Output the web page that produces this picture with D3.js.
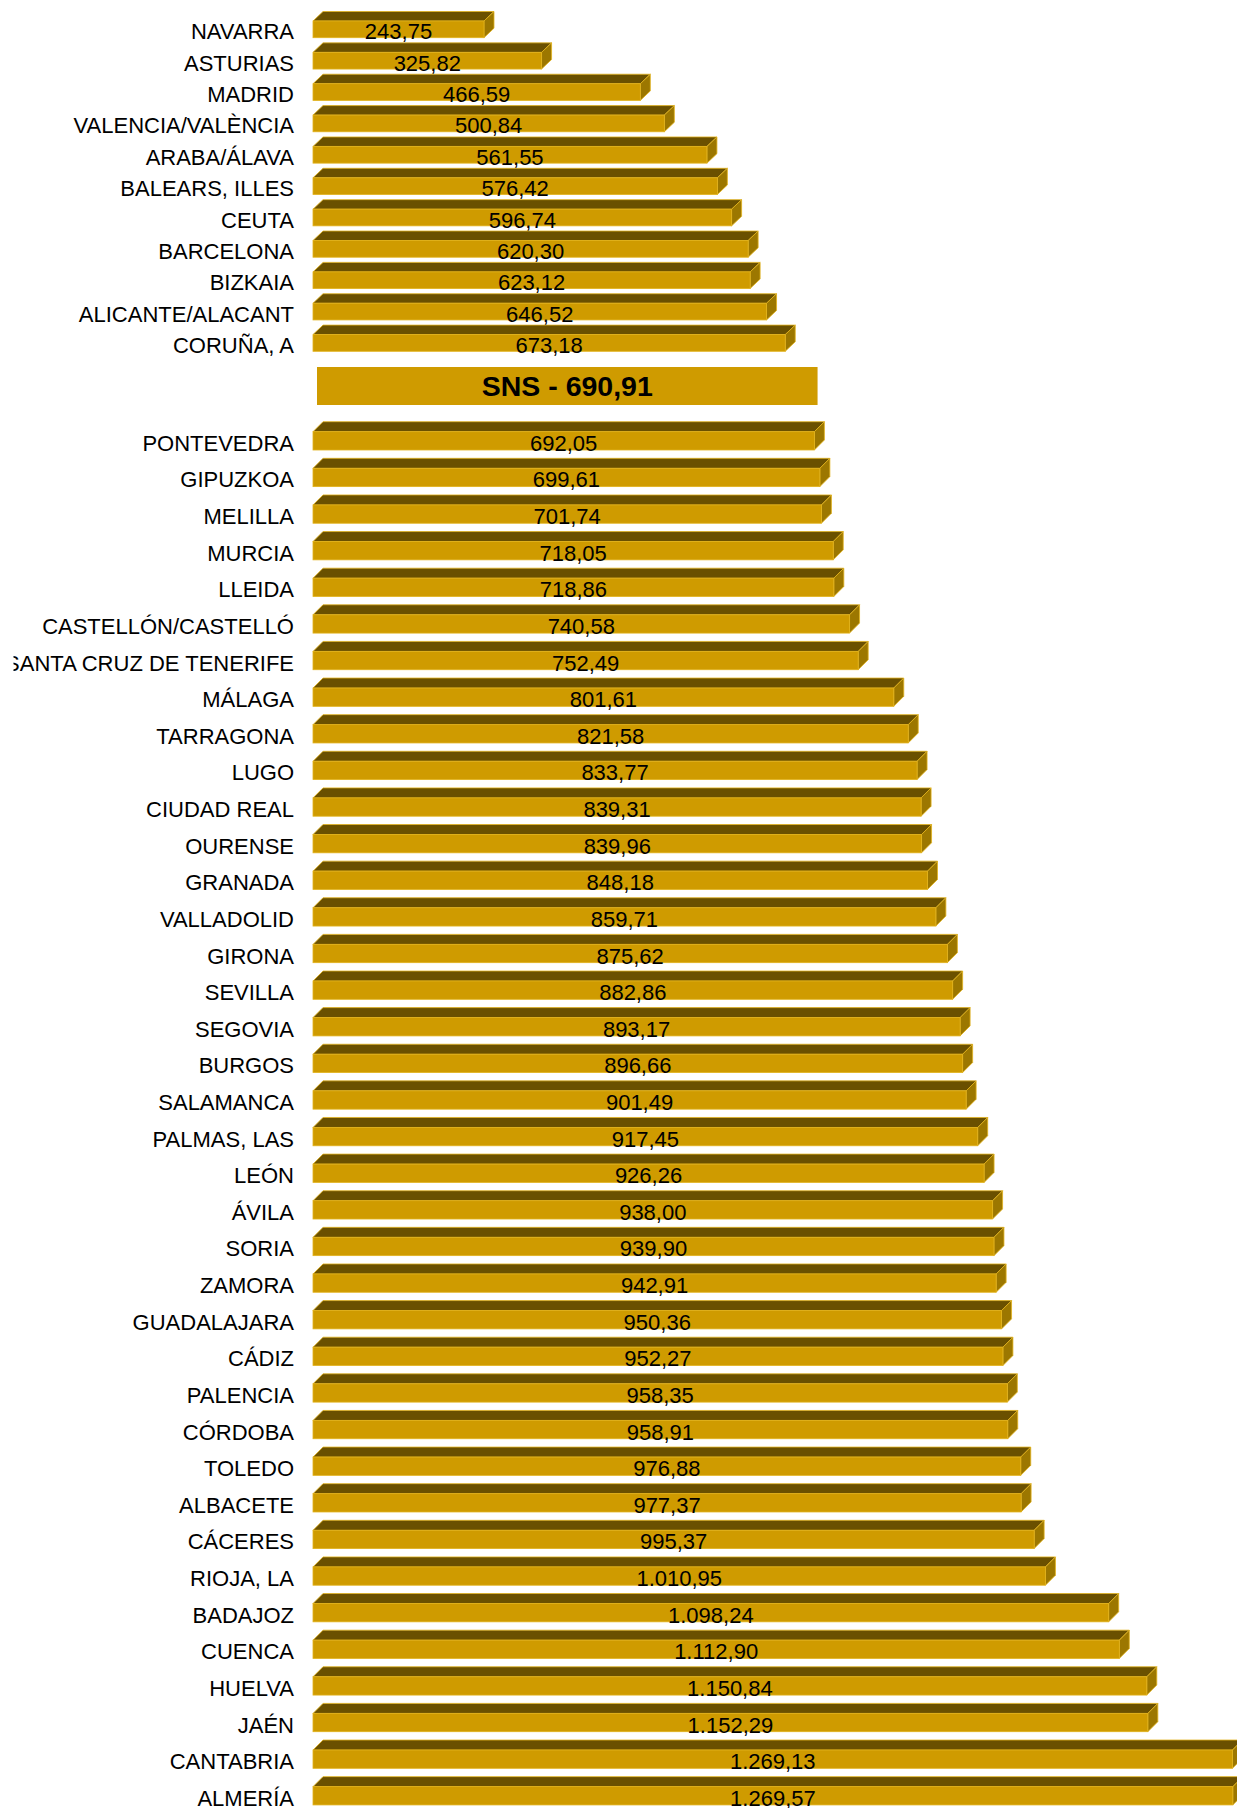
<!DOCTYPE html>
<html>
<head>
<meta charset="utf-8">
<script src="https://cdn.jsdelivr.net/npm/d3@7"></script>
<style>
  html, body { margin: 0; padding: 0; background: #ffffff; }
  svg { display: block; }
  text { font-family: "Liberation Sans", Arial, sans-serif; }
</style>
</head>
<body>
<svg id="chart" width="1237" height="1808"></svg>
<script>
const topCategories = ["NAVARRA","ASTURIAS","MADRID","VALENCIA/VALÈNCIA","ARABA/ÁLAVA","BALEARS, ILLES","CEUTA","BARCELONA","BIZKAIA","ALICANTE/ALACANT","CORUÑA, A"];
const topValues = [243.75,325.82,466.59,500.84,561.55,576.42,596.74,620.30,623.12,646.52,673.18];

const snsLabel = "SNS";
const snsValue = 690.91;

const bottomCategories = ["PONTEVEDRA","GIPUZKOA","MELILLA","MURCIA","LLEIDA","CASTELLÓN/CASTELLÓ","SANTA CRUZ DE TENERIFE","MÁLAGA","TARRAGONA","LUGO","CIUDAD REAL","OURENSE","GRANADA","VALLADOLID","GIRONA","SEVILLA","SEGOVIA","BURGOS","SALAMANCA","PALMAS, LAS","LEÓN","ÁVILA","SORIA","ZAMORA","GUADALAJARA","CÁDIZ","PALENCIA","CÓRDOBA","TOLEDO","ALBACETE","CÁCERES","RIOJA, LA","BADAJOZ","CUENCA","HUELVA","JAÉN","CANTABRIA","ALMERÍA"];
const bottomValues = [692.05,699.61,701.74,718.05,718.86,740.58,752.49,801.61,821.58,833.77,839.31,839.96,848.18,859.71,875.62,882.86,893.17,896.66,901.49,917.45,926.26,938.00,939.90,942.91,950.36,952.27,958.35,958.91,976.88,977.37,995.37,1010.95,1098.24,1112.90,1150.84,1152.29,1269.13,1269.57];

const loc = d3.formatLocale({decimal: ",", thousands: ".", grouping: [3], currency: ["", "€"]});
const fmt = loc.format(",.2f");

const COLORS = { front: "#CF9B00", top: "#6A5000", side: "#9C7700", edge: "#E2B21C" };

const svg = d3.select("#chart");
svg.append("defs").append("clipPath").attr("id", "clipArea")
  .append("rect").attr("x", 13.5).attr("y", 0).attr("width", 1237 - 13.5).attr("height", 1808);

const root = svg.append("g").attr("clip-path", "url(#clipArea)");

function drawGroup(cats, vals, opts) {
  const x = d3.scaleLinear().domain([0, 1000]).range([opts.x0, opts.x0 + opts.pxPer1000]);
  const y = d3.scaleBand().domain(cats).range(opts.yRange)
    .paddingInner(opts.pad).paddingOuter(opts.pad);
  const data = cats.map((c, i) => ({ c, v: vals[i] }));
  const g = root.append("g");
  const dx = opts.dx, dy = opts.dy;

  const bars = g.selectAll("g.bar").data(data).join("g").attr("class", "bar");

  // top face
  bars.append("path")
    .attr("fill", COLORS.top)
    .attr("stroke", COLORS.edge).attr("stroke-width", 0.8)
    .attr("d", d => {
      const x0 = x(0), x1 = x(d.v), yt = y(d.c);
      return `M${x0},${yt} L${x0 + dx},${yt - dy} L${x1 + dx},${yt - dy} L${x1},${yt} Z`;
    });
  // side face
  bars.append("path")
    .attr("fill", COLORS.side)
    .attr("stroke", COLORS.edge).attr("stroke-width", 0.8)
    .attr("d", d => {
      const x1 = x(d.v), yt = y(d.c), yb = y(d.c) + y.bandwidth();
      return `M${x1},${yt} L${x1 + dx},${yt - dy} L${x1 + dx},${yb - dy} L${x1},${yb} Z`;
    });
  // front face
  bars.append("rect")
    .attr("fill", COLORS.front)
    .attr("stroke", COLORS.edge).attr("stroke-width", 0.8)
    .attr("x", x(0))
    .attr("y", d => y(d.c))
    .attr("width", d => x(d.v) - x(0))
    .attr("height", y.bandwidth());

  // value labels
  bars.append("text")
    .attr("x", d => (x(0) + x(d.v)) / 2)
    .attr("y", d => y(d.c) + y.bandwidth() / 2 + 10)
    .attr("text-anchor", "middle")
    .attr("font-size", 22)
    .attr("fill", "#000")
    .text(d => fmt(d.v));

  // category labels
  g.selectAll("text.cat").data(data).join("text").attr("class", "cat")
    .attr("x", 294)
    .attr("y", d => y(d.c) + y.bandwidth() / 2 + 10)
    .attr("text-anchor", "end")
    .attr("font-size", 22)
    .attr("fill", "#000")
    .text(d => d.c);
  return x;
}

// Top group
const topStep = 31.36, topBand = 16.7, topPad = 1 - topBand / topStep;
const topStart = 21 - topStep * topPad;
drawGroup(topCategories, topValues, {
  x0: 313, pxPer1000: 701.5,
  yRange: [topStart, topStart + topStep * (topCategories.length + topPad)],
  pad: topPad, dx: 10, dy: 9.5
});

// Bottom group
const botStep = 36.62, botBand = 18.3, botPad = 1 - botBand / botStep;
const botStart = 431.7 - botStep * botPad;
const xb = drawGroup(bottomCategories, bottomValues, {
  x0: 313, pxPer1000: 724.5,
  yRange: [botStart, botStart + botStep * (bottomCategories.length + botPad)],
  pad: botPad, dx: 10, dy: 10
});

// SNS reference box
const snsX0 = 317;
const snsG = root.append("g");
snsG.append("rect")
  .attr("x", snsX0).attr("y", 367)
  .attr("width", xb(snsValue) - xb(0))
  .attr("height", 38)
  .attr("fill", COLORS.front);
snsG.append("text")
  .attr("x", snsX0 + (xb(snsValue) - xb(0)) / 2)
  .attr("y", 386 + 10)
  .attr("text-anchor", "middle")
  .attr("font-size", 28.5)
  .attr("font-weight", "bold")
  .attr("fill", "#000")
  .text(`${snsLabel} - ${fmt(snsValue)}`);
</script>
</body>
</html>
